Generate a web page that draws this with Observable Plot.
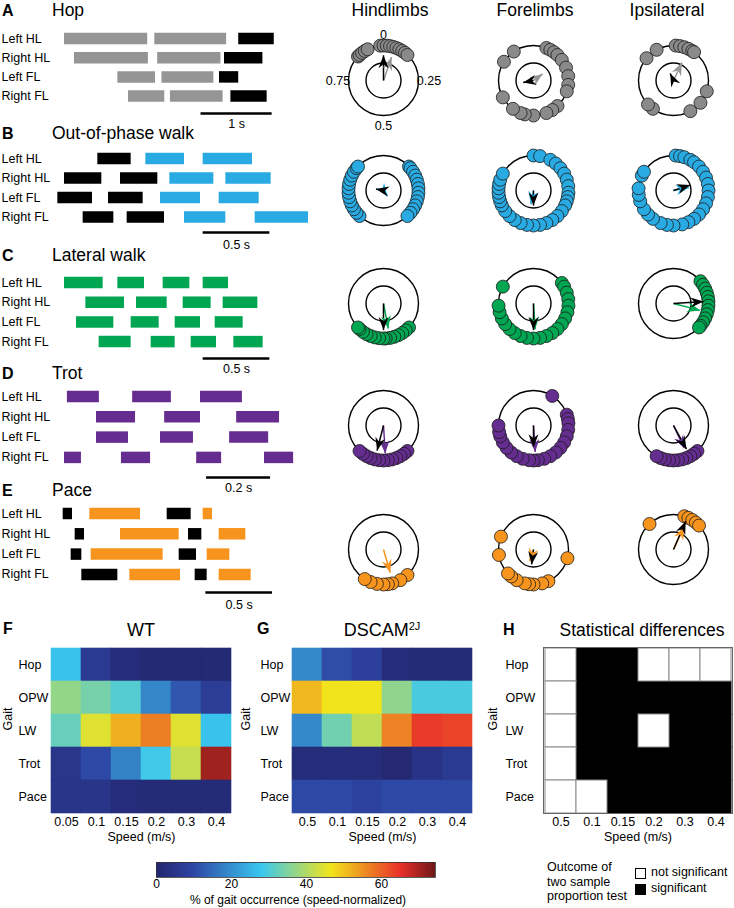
<!DOCTYPE html>
<html><head><meta charset="utf-8">
<script src="https://cdn.jsdelivr.net/npm/d3@7"></script>
<script src="https://cdn.jsdelivr.net/npm/@observablehq/plot@0.6"></script>
<style>
body{margin:0;background:#fff;font-family:"Liberation Sans",Arial,sans-serif;color:#000}
#fig{position:relative;width:734px;height:908px;overflow:hidden;background:#fff}
.abs{position:absolute;white-space:nowrap;line-height:1.1}
sup{font-size:11px;vertical-align:6px;line-height:0}
</style></head><body><div id="fig"></div>
<script>
// ---------- DATA ----------
const limbs = ["Left HL","Right HL","Left FL","Right FL"];
// stance bars per limb: [start (s), end (s), black?]
const hopBars = [
 [[0.90,2.07,0],[2.17,3.18,0],[3.35,3.85,1]],
 [[1.04,2.08,0],[2.21,3.10,0],[3.15,3.69,1]],
 [[1.65,2.18,0],[2.27,3.00,0],[3.08,3.35,1]],
 [[1.80,2.31,0],[2.39,3.13,0],[3.24,3.75,1]]
];
const opwBars = [
 [[0.73,0.98,1],[1.09,1.38,0],[1.52,1.89,0]],
 [[0.48,0.76,1],[0.90,1.18,1],[1.27,1.60,0],[1.69,2.03,0]],
 [[0.43,0.69,1],[0.81,1.07,1],[1.20,1.50,0],[1.64,1.94,0]],
 [[0.62,0.85,1],[0.95,1.23,1],[1.38,1.69,0],[1.91,2.31,0]]
];
const lwBars = [
 [[0.48,0.77,0],[0.88,1.08,0],[1.22,1.42,0],[1.52,1.71,0]],
 [[0.64,0.93,0],[1.02,1.25,0],[1.37,1.58,0],[1.67,1.93,0]],
 [[0.57,0.85,0],[0.98,1.19,0],[1.31,1.50,0],[1.61,1.82,0]],
 [[0.74,0.98,0],[1.13,1.31,0],[1.43,1.62,0],[1.75,1.97,0]]
];
const trotBars = [
 [[0.209,0.309,0],[0.413,0.534,0],[0.625,0.756,0]],
 [[0.300,0.422,0],[0.513,0.625,0],[0.738,0.872,0]],
 [[0.300,0.400,0],[0.500,0.603,0],[0.716,0.838,0]],
 [[0.200,0.253,0],[0.378,0.469,0],[0.613,0.691,0],[0.825,0.916,0]]
];
const paceBars = [
 [[0.47,0.54,1],[0.67,1.05,0],[1.25,1.43,1],[1.52,1.59,0]],
 [[0.56,0.63,1],[0.90,1.34,0],[1.41,1.51,1],[1.64,1.84,0]],
 [[0.53,0.61,1],[0.68,1.22,0],[1.34,1.47,1],[1.55,1.72,0]],
 [[0.61,0.88,1],[0.97,1.35,0],[1.46,1.55,1],[1.64,1.88,0]]
];
// scale bars: start (s), length (s), label
const hopScale = {start:2.82, len:1, label:"1 s"};
const opwScale = {start:1.52, len:0.5, label:"0.5 s"};
const lwScale = {start:1.52, len:0.5, label:"0.5 s"};
const trotScale = {start:0.644, len:0.2, label:"0.2 s"};
const paceScale = {start:1.54, len:0.5, label:"0.5 s"};

const gaitNames = ["Hop","Out-of-phase walk","Lateral walk","Trot","Pace"];
const gaitColors = ["#959595","#29aae2","#00a651","#662d91","#f7941d"];
const dotColors = ["#8a8a8a","#29aae2","#00a651","#662d91","#f7941d"];
const columnTitles = ["Hindlimbs","Forelimbs","Ipsilateral"];
const phaseTicks = ["0","0.25","0.5","0.75"];
const phaseTickValues = [0,0.25,0.5,0.75];

// phase values of individual strides (0..1)
const hopPhases = {
 hind:[0.87,0.88,0.895,0.91,0.925,0.985,0.0,0.015,0.03,0.045,0.06,0.075,0.09,0.105,0.12],
 fore:[0.84,0.905,0.06,0.08,0.1,0.12,0.15,0.19,0.23,0.27,0.3,0.38,0.41,0.44,0.5,0.54,0.56,0.6,0.67],
 ipsi:[0.86,0.92,0.01,0.03,0.05,0.07,0.09,0.1,0.3,0.36,0.42,0.6,0.63]
};
const opwPhases = {
 hind:[0.62,0.64,0.66,0.68,0.7,0.72,0.74,0.76,0.78,0.8,0.82,0.84,0.86,0.87,0.13,0.14,0.16,0.18,0.2,0.22,0.24,0.26,0.28,0.3,0.32,0.34,0.36,0.38],
 fore:[0.0,0.03,0.08,0.11,0.14,0.17,0.2,0.23,0.26,0.28,0.3,0.32,0.35,0.38,0.41,0.44,0.47,0.5,0.53,0.56,0.59,0.62,0.65,0.68,0.7,0.72,0.74,0.76,0.78,0.8,0.83],
 ipsi:[0.01,0.03,0.05,0.08,0.1,0.13,0.16,0.19,0.22,0.25,0.28,0.31,0.34,0.37,0.4,0.43,0.46,0.5,0.53,0.56,0.6,0.63,0.66,0.7,0.73,0.76,0.82,0.84]
};
const lwPhases = {
 hind:[0.37,0.39,0.41,0.43,0.45,0.47,0.49,0.5,0.52,0.54,0.56,0.58,0.6,0.62,0.63],
 fore:[0.15,0.17,0.2,0.23,0.26,0.29,0.32,0.35,0.38,0.41,0.44,0.47,0.5,0.53,0.56,0.59,0.62,0.65,0.68,0.71,0.74,0.83],
 ipsi:[0.14,0.16,0.18,0.2,0.22,0.24,0.26,0.28,0.3,0.32,0.34,0.36,0.37]
};
const trotPhases = {
 hind:[0.38,0.4,0.42,0.44,0.46,0.48,0.5,0.52,0.54,0.56,0.58,0.6,0.62],
 fore:[0.09,0.2,0.22,0.24,0.27,0.3,0.33,0.36,0.39,0.42,0.45,0.48,0.5,0.52,0.55,0.58,0.61,0.64,0.67,0.7,0.72,0.75],
 ipsi:[0.38,0.4,0.42,0.44,0.46,0.48,0.5,0.52,0.54,0.56,0.58]
};
const pacePhases = {
 hind:[0.38,0.42,0.46,0.48,0.5,0.53,0.56,0.59],
 fore:[0.29,0.43,0.46,0.5,0.52,0.54,0.58,0.61,0.63,0.725,0.81],
 ipsi:[0.88,0.05,0.07,0.09,0.11,0.13]
};
// mean vectors: [black (WT) [phase, length], coloured [phase, length]]
const hopArrows = {hind:[[0.0,0.72],[0.053,0.7]], fore:[[0.72,0.3],[0.15,0.32]], ipsi:[[0.93,0.22],[0.07,0.57]]};
const opwArrows = {hind:[[0.78,0.22],[0.4,0.2]], fore:[[0.5,0.43],[0.53,0.4]], ipsi:[[0.2,0.5],[0.22,0.45]]};
const lwArrows = {hind:[[0.5,0.76],[0.47,0.73]], fore:[[0.5,0.76],[0.49,0.74]], ipsi:[[0.24,0.86],[0.29,0.79]]};
const trotArrows = {hind:[[0.54,0.74],[0.49,0.8]], fore:[[0.5,0.62],[0.49,0.76]], ipsi:[[0.42,0.77],[0.43,0.72]]};
const paceArrows = {hind:[null,[0.455,0.69]], fore:[[0.52,0.43],[0.55,0.35]], ipsi:[[0.065,0.88],[0.07,0.72]]};

// heatmaps
const gaits = ["Hop","OPW","LW","Trot","Pace"];
const speedsWT = ["0.05","0.1","0.15","0.2","0.3","0.4"];
const speedsDS = ["0.5","0.1","0.15","0.2","0.3","0.4"];
const wtValues = [
 [27, 6, 2, 1, 1, 1],
 [37, 34, 30.5, 18.6, 12, 7],
 [32.5, 44.6, 52, 57, 44.6, 27],
 [5, 10, 18, 28.5, 42, 70.6],
 [4.5, 4.5, 2, 1.5, 1.5, 1.5]
];
const dscamValues = [
 [19, 10.5, 8, 2, 1.5, 1.5],
 [51, 46.5, 46.5, 36.5, 29.5, 29.5],
 [19, 33.5, 41.5, 56.5, 64, 63],
 [2, 2, 2, 0.5, 4, 6],
 [10, 10, 8.5, 10, 10, 10]
];
const sigMatrix = [
 [0,1,1,0,0,0],
 [0,1,1,1,1,1],
 [0,1,1,0,1,1],
 [0,1,1,1,1,1],
 [0,0,1,1,1,1]
];
const colorMax = 74.4;
const colorTicks = [0,20,40,60];
const jetStops = [0,0.125,0.375,0.625,0.875,1];
const jetColors = ["#23276f","#2e44a2","#3ac8f0","#f2e41c","#e8302a","#6e1818"];

// ---------- DRAWING ----------
const fig = document.getElementById("fig");
const FONT = "'Liberation Sans', Arial, sans-serif";
const baseStyle = {fontFamily: FONT, fontSize: "12px", background: "transparent", overflow: "visible"};
const FS = 12.5;
function place(svg, left, top) {
  svg.style.position = "absolute"; svg.style.left = left + "px"; svg.style.top = top + "px";
  fig.appendChild(svg);
}
function addText(html, x, y, size, opts = {}) {
  const d = document.createElement("div");
  d.className = "abs"; d.innerHTML = html;
  d.style.left = x + "px"; d.style.top = y + "px"; d.style.fontSize = size + "px";
  if (opts.bold) d.style.fontWeight = "bold";
  d.style.transform = `translate(${opts.anchor === "middle" ? "-50%" : "0"},-50%)`;
  fig.appendChild(d);
}

// gait diagrams
const gaitPanels = [
  {bars: hopBars, scale: hopScale, xMax: 4.5, row0: 38, step: 19.2, barRow: 3.9, labelRow: 4.45, letter:"A", titleY: 11},
  {bars: opwBars, scale: opwScale, xMax: 2.4, row0: 158, step: 19.5, barRow: 3.8, labelRow: 4.45, letter:"B", titleY: 134},
  {bars: lwBars, scale: lwScale, xMax: 2.4, row0: 282, step: 19.7, barRow: 3.86, labelRow: 4.37, letter:"C", titleY: 256},
  {bars: trotBars, scale: trotScale, xMax: 1.0, row0: 396, step: 20.3, barRow: 3.99, labelRow: 4.53, letter:"D", titleY: 374},
  {bars: paceBars, scale: paceScale, xMax: 2.4, row0: 513, step: 20.3, barRow: 3.89, labelRow: 4.53, letter:"E", titleY: 491}
];
gaitPanels.forEach((p, gi) => {
  const rows = p.bars.flatMap((segs, i) => segs.map(([a, b, k]) => ({limb: i, a, b, k})));
  const svg = Plot.plot({
    width: 320, height: Math.round(12 + 4.9 * p.step), margin: 0, style: baseStyle,
    x: {domain: [0, p.xMax], range: [0, 320], axis: null},
    y: {domain: [0, 1], range: [12, 12 + p.step], axis: null},
    marks: [
      Plot.ruleY(rows, {y: "limb", x1: "a", x2: "b", stroke: d => d.k ? "#000000" : gaitColors[gi], strokeWidth: 11.5}),
      Plot.text(limbs, {y: (d, i) => i, text: d => d, frameAnchor: "left", textAnchor: "start", dx: 1, fontSize: FS}),
      Plot.ruleY([p.scale], {y: () => p.barRow, x1: d => d.start, x2: d => d.start + d.len, strokeWidth: 2.5}),
      Plot.text([p.scale], {y: () => p.labelRow, x: d => d.start + d.len / 2, text: d => d.label, fontSize: FS})
    ]
  });
  place(svg, 0, p.row0 - 12);
  addText(p.letter, 2, p.titleY, 16, {bold: true});
  addText(gaitNames[gi], 52, p.titleY, 17.5);
});

// circular phase plots
const dart = {draw(ctx) { const h = 13, w = 10; ctx.moveTo(0, 0); ctx.lineTo(w/2, h); ctx.lineTo(0, h*0.68); ctx.lineTo(-w/2, h); ctx.closePath(); }};
const colX = [383, 533, 673];
const rowY = [80, 190, 303, 425, 549];
const phaseSets = [hopPhases, opwPhases, lwPhases, trotPhases, pacePhases];
const arrowSets = [hopArrows, opwArrows, lwArrows, trotArrows, paceArrows];
const keys = ["hind", "fore", "ipsi"];
const TAU = 2 * Math.PI;
phaseSets.forEach((set, gi) => {
  keys.forEach((k, ci) => {
    const R = 35, W = 130, H = 110;
    const pts = set[k].map(p => ({x: Math.sin(TAU * p), y: Math.cos(TAU * p)}));
    const [blk, col] = arrowSets[gi][k];
    const arr = [];
    if (col) arr.push({p: col[0], len: col[1], c: gaitColors[gi]});
    if (blk) arr.push({p: blk[0], len: blk[1], c: "#000000"});
    arr.forEach(a => { a.x = a.len * Math.sin(TAU * a.p); a.y = a.len * Math.cos(TAU * a.p); });
    const marks = [
      Plot.dot([{x: 0, y: 0}], {x: "x", y: "y", r: R, stroke: "#000", strokeWidth: 1.4, fill: "none"}),
      Plot.dot([{x: 0, y: 0}], {x: "x", y: "y", r: R / 2, stroke: "#000", strokeWidth: 1.4, fill: "none"}),
      Plot.dot(pts, {x: "x", y: "y", r: 6.5, fill: dotColors[gi], stroke: "#1a1a1a", strokeWidth: 0.8}),
      Plot.link(arr, {x1: () => 0, y1: () => 0, x2: "x", y2: "y", stroke: "c", strokeWidth: 1.5}),
      Plot.dot(arr, {x: "x", y: "y", symbol: dart, r: 5, fill: "c", stroke: "none", rotate: d => d.p * 360})
    ];
    if (gi === 0 && ci === 0) {
      marks.push(Plot.text(phaseTicks, {x: (d, i) => 1.3 * Math.sin(TAU * phaseTickValues[i]), y: (d, i) => 1.3 * Math.cos(TAU * phaseTickValues[i]), text: d => d, fontSize: FS}));
    }
    const svg = Plot.plot({
      width: W, height: H, margin: 0, style: baseStyle,
      x: {domain: [-W / 2 / R, W / 2 / R], range: [0, W], axis: null},
      y: {domain: [-H / 2 / R, H / 2 / R], range: [H, 0], axis: null},
      marks
    });
    place(svg, colX[ci] - W / 2, rowY[gi] - H / 2);
  });
});
addText(columnTitles[0], 390, 11, 17.5, {anchor: "middle"});
addText(columnTitles[1], 535, 11, 17.5, {anchor: "middle"});
addText(columnTitles[2], 667, 11, 17.5, {anchor: "middle"});

// heatmaps
const jetScale = d3.scaleLinear().domain(jetStops).range(jetColors).interpolate(d3.interpolateRgb);
const jet = (t) => jetScale(t);
const colorOpt = {type: "linear", domain: [0, colorMax], interpolate: jet};
function heat(values, speeds, left, labelDx, gaitDx) {
  const table = gaits.flatMap((g, r) => speeds.map((s, c) => ({g, s, v: values[r][c]})));
  const svg = Plot.plot({
    width: 240, height: 213, marginLeft: 50, marginRight: 8, marginTop: 7, marginBottom: 40, style: baseStyle,
    x: {domain: speeds, padding: 0}, y: {domain: gaits, padding: 0},
    color: colorOpt,
    marks: [
      Plot.cell(table, {x: "s", y: "g", fill: "v", stroke: "v", strokeWidth: 0.6, inset: 0}),
      Plot.axisX({tickSize: 0, tickPadding: 4, label: null, fontSize: FS}),
      Plot.axisY({tickSize: 0, tickPadding: 0, textAnchor: "start", dx: labelDx, label: null, fontSize: FS}),
      Plot.text(["Gait"], {frameAnchor: "left", dx: gaitDx, rotate: -90, text: d => d, fontSize: FS}),
      Plot.text(["Speed (m/s)"], {frameAnchor: "bottom", dy: 27, text: d => d, fontSize: FS})
    ]
  });
  place(svg, left, 640);
}
heat(wtValues, speedsWT, 0, -32, -43);
heat(dscamValues, speedsDS, 241, -31, -46);

// significance map
{
  const table = gaits.flatMap((g, r) => speedsDS.map((s, c) => ({g, s, v: sigMatrix[r][c]})));
  table.sort((a, b) => b.v - a.v);
  const svg = Plot.plot({
    width: 241, height: 213, marginLeft: 50, marginRight: 2, marginTop: 7, marginBottom: 40, style: baseStyle,
    x: {domain: speedsDS, padding: 0}, y: {domain: gaits, padding: 0},
    marks: [
      Plot.cell(table, {x: "s", y: "g", fill: d => d.v ? "#000000" : "#ffffff", stroke: d => d.v ? "#000000" : "#8a8a8a", strokeWidth: 1, inset: 0}),
      Plot.frame({stroke: "#666", strokeWidth: 1}),
      Plot.axisX({tickSize: 0, tickPadding: 4, label: null, fontSize: FS}),
      Plot.axisY({tickSize: 0, tickPadding: 0, textAnchor: "start", dx: -38, label: null, fontSize: FS}),
      Plot.text(["Gait"], {frameAnchor: "left", dx: -51, rotate: -90, text: d => d, fontSize: FS}),
      Plot.text(["Speed (m/s)"], {frameAnchor: "bottom", dy: 27, text: d => d, fontSize: FS})
    ]
  });
  place(svg, 493, 640);
}
addText("F", 3, 629, 16, {bold: true});
addText("G", 257, 629, 16, {bold: true});
addText("H", 503, 630, 16, {bold: true});
addText("WT", 141, 631, 18, {anchor: "middle"});
addText("DSCAM<sup>2J</sup>", 382, 631, 18, {anchor: "middle"});
addText("Statistical differences", 642, 631, 17.5, {anchor: "middle"});

// colour bar
{
  const steps = d3.range(0, colorMax, 0.25);
  const svg = Plot.plot({
    width: 300, height: 40, marginLeft: 6, marginRight: 15, marginTop: 9, marginBottom: 16, style: baseStyle,
    x: {domain: [0, colorMax]}, color: colorOpt,
    marks: [
      Plot.barX(steps, {x1: d => d, x2: d => Math.min(colorMax, d + 0.5), fill: d => d, inset: 0}),
      Plot.frame({stroke: "#333", strokeWidth: 0.8}),
      Plot.axisX({ticks: colorTicks, tickSize: 0, tickPadding: 2, label: null, fontSize: 12})
    ]
  });
  place(svg, 150, 853);
}
addText("% of gait occurrence (speed-normalized)", 298, 901, 12, {anchor: "middle"});

// significance legend
addText("Outcome of", 547, 868, 12.5);
addText("two sample", 547, 883, 12.5);
addText("proportion test", 547, 897, 12.5);
{
  const a = document.createElement("div");
  a.style.cssText = "position:absolute;left:635px;top:868px;width:9px;height:9px;border:1.3px solid #000;background:#fff";
  fig.appendChild(a);
  const b = document.createElement("div");
  b.style.cssText = "position:absolute;left:635px;top:884px;width:11px;height:11px;background:#000";
  fig.appendChild(b);
}
addText("not significant", 651, 873, 12.5);
addText("significant", 651, 889, 12.5);
</script></body></html>
